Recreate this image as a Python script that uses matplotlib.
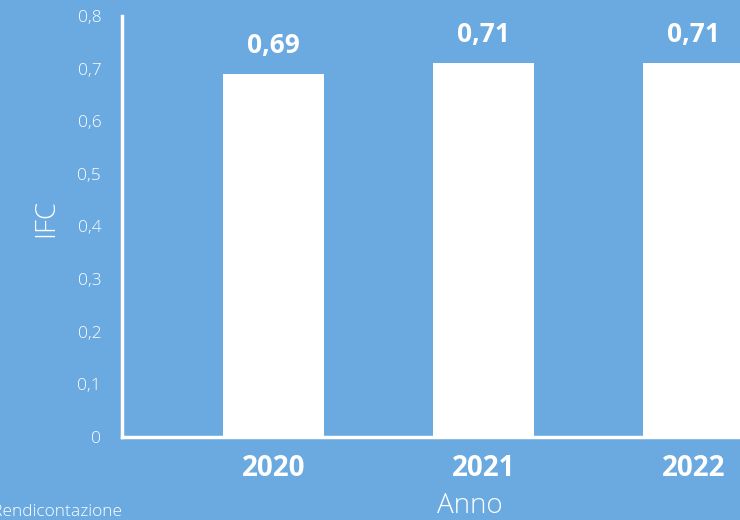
import matplotlib
matplotlib.use("Agg")
import matplotlib.pyplot as plt
import matplotlib.transforms as mtransforms

years = ["2020", "2021", "2022"]
ifc = [0.69, 0.71, 0.71]
value_labels = ["0,69", "0,71", "0,71"]
yticks = [0, 0.1, 0.2, 0.3, 0.4, 0.5, 0.6, 0.7, 0.8]
ytick_labels = ["0", "0,1", "0,2", "0,3", "0,4", "0,5", "0,6", "0,7", "0,8"]

BG = "#6AAAE0"
FONT = ["Open Sans", "Lato", "DejaVu Sans"]
plt.rcParams['font.family'] = FONT
LIGHT = 300

fig = plt.figure(figsize=(7.4, 5.2), dpi=100, facecolor=BG)
# axes extend beyond the right edge of the figure (chart is cropped)
ax = fig.add_axes([122/740, 83/520, 682.5/740, 421/520], facecolor=BG)

x = list(range(len(years)))
ax.bar(x, ifc, width=0.48, color="white", zorder=2)
for xi, v, lab in zip(x, ifc, value_labels):
    ax.annotate(lab, (xi, v), xytext=(0, 11), textcoords="offset points",
                ha="center", va="bottom", color="white", fontsize=19,
                fontweight="bold")

ax.set_xlim(-0.72, 2.53)
ax.set_ylim(0, 0.8)
ax.set_yticks(yticks)
ax.set_yticklabels(ytick_labels, fontsize=12.5, fontweight=LIGHT, color="white")
offset = mtransforms.ScaledTranslation(0, -4/100, fig.dpi_scale_trans)
for lbl in ax.get_yticklabels():
    lbl.set_transform(lbl.get_transform() + offset)
ax.set_xticks(x)
ax.set_xticklabels(years, fontsize=20, fontweight="bold", color="white")
ax.tick_params(axis="y", length=0, pad=15)
ax.tick_params(axis="x", length=0, pad=12)

for s in ["top", "right"]:
    ax.spines[s].set_visible(False)
for s in ["left", "bottom"]:
    ax.spines[s].set_color("white")
    ax.spines[s].set_linewidth(2.5)

ax.set_ylabel("IFC", fontsize=20, fontweight=LIGHT, color="white")
ax.yaxis.set_label_coords(-0.09, 0.52)
fig.text(470/740, 0.0, "Anno", fontsize=20, fontweight=LIGHT, color="white",
         ha="center", va="bottom")
fig.text(122/740, 0.0, "Fonte: Rendicontazione", fontsize=12.5, fontweight=LIGHT,
         color="white", ha="right", va="bottom")

fig.savefig("out.png", dpi=100, facecolor=BG)
